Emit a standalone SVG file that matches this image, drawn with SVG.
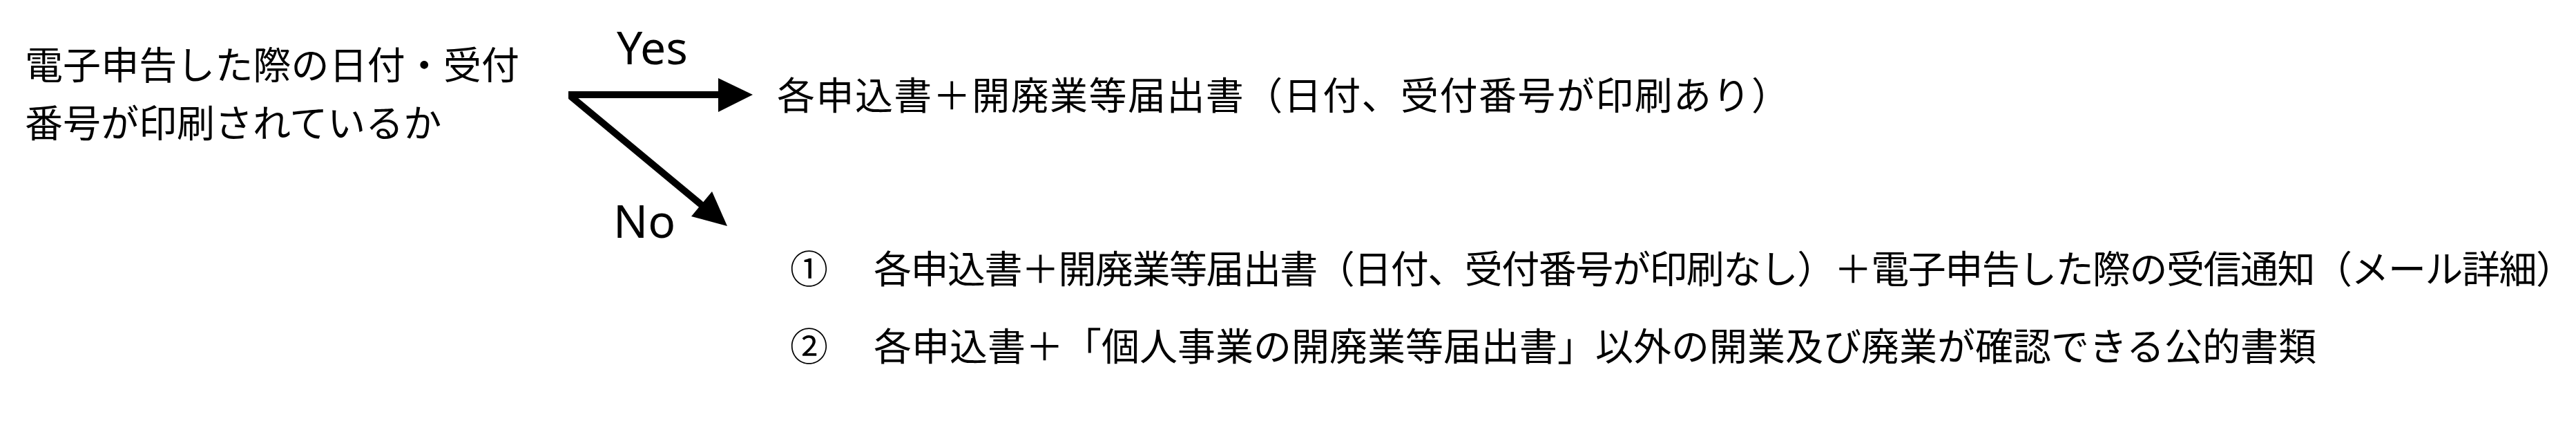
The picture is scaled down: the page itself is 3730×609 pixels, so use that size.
<svg xmlns="http://www.w3.org/2000/svg" width="3730" height="609" viewBox="0 0 3730 609">
<style>
.jp{font-family:"Noto Sans CJK JP","Noto Sans",sans-serif;font-size:55px;fill:#000}
.en{font-family:"Noto Sans","Open Sans",sans-serif;font-size:66px;fill:#000}
.ln{stroke:#000;stroke-width:10;fill:none}
</style>
<rect width="3730" height="609" fill="#fff"/>
<g id="question">
<text class="jp" x="36" y="114" textLength="716" lengthAdjust="spacing">電子申告した際の日付・受付</text>
<text class="jp" x="36" y="198">番号が印刷されているか</text>
</g>
<g id="connectors">
<path class="ln" d="M823 137 H1045"/>
<polygon points="1040,113 1090,137 1040,162" fill="#000"/>
<path class="ln" d="M826 139 L1020 300"/>
<polygon points="1031,277 1053,327 1001,313" fill="#000"/>
<text class="en" x="893" y="93">Yes</text>
<text class="en" x="888" y="344">No</text>
</g>
<g id="yes-result">
<text class="jp" x="1125" y="158" textLength="1466" lengthAdjust="spacing">各申込書＋開廃業等届出書（日付、受付番号が印刷あり）</text>
</g>
<g id="no-result-1">
<text class="jp" x="1144" y="409">①</text>
<text class="jp" x="1265" y="409" textLength="2462" lengthAdjust="spacing">各申込書＋開廃業等届出書（日付、受付番号が印刷なし）＋電子申告した際の受信通知（メール詳細）</text>
</g>
<g id="no-result-2">
<text class="jp" x="1144" y="521">②</text>
<text class="jp" x="1265" y="521">各申込書＋「個人事業の開廃業等届出書」以外の開業及び廃業が確認できる公的書類</text>
</g>
</svg>
